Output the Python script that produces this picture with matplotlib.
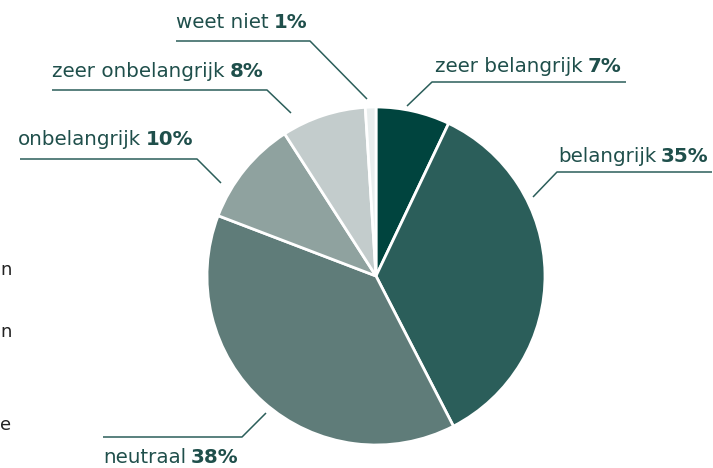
import matplotlib
matplotlib.use("Agg")
import matplotlib.pyplot as plt
import numpy as np

# ---- data ----
categories = ["zeer belangrijk", "belangrijk", "neutraal", "onbelangrijk", "zeer onbelangrijk", "weet niet"]
values = [7, 35, 38, 10, 8, 1]
pct_labels = ["7%", "35%", "38%", "10%", "8%", "1%"]
colors = ["#00443e", "#2b5e5a", "#5f7c79", "#8fa29f", "#c3cccc", "#e9eeee"]
edge_letters = ["n", "n", "e"]

W, H = 713, 468
fig = plt.figure(figsize=(W / 100, H / 100), dpi=100)
ax = fig.add_axes([0, 0, 1, 1])

cx, cy, R = 376, H - 276, 169
ax.pie(values, colors=colors, startangle=90, counterclock=False,
       center=(cx, cy), radius=R, frame=True,
       wedgeprops=dict(edgecolor="white", linewidth=2))
ax.set_xlim(0, W)
ax.set_ylim(0, H)
ax.set_aspect("equal")
ax.axis("off")

TXT = "#1f4f4b"
LINE = "#2b5e5a"
FONT = "DejaVu Sans"
FS = 14.3

# layout: (text x, text baseline y (image px), leader polyline in image px)
layout = {
    "zeer belangrijk": (435, 72, [(407, 106), (432, 82), (626, 82)]),
    "belangrijk": (558, 162, [(533, 197), (557, 172), (712, 172)]),
    "neutraal": (103, 463, [(266, 413), (242, 437), (103, 437)]),
    "onbelangrijk": (18, 145, [(221, 183), (197, 159), (20, 159)]),
    "zeer onbelangrijk": (52, 77, [(291, 113), (267, 90), (52, 90)]),
    "weet niet": (176, 28, [(367, 99), (310, 41), (176, 41)]),
}

for cat, pct in zip(categories, pct_labels):
    tx, ty, pts = layout[cat]
    xs = [p[0] for p in pts]
    ys = [H - p[1] for p in pts]
    ax.plot(xs, ys, color=LINE, lw=1.1, solid_capstyle="butt")
    t = ax.text(tx, H - ty, cat, fontsize=FS, family=FONT, color=TXT,
                ha="left", va="baseline")
    ax.annotate(pct, xy=(1, 0), xycoords=t, xytext=(3.5, 0),
                textcoords="offset points", fontsize=FS, family=FONT,
                fontweight="bold", color=TXT, ha="left", va="bottom")

# letters of a neighbouring element at the left edge
for ch, yy in zip(edge_letters, [275, 337, 430]):
    ax.text(0, H - yy, ch, fontsize=13, family=FONT, color="#222222",
            ha="left", va="baseline")

fig.savefig("out.png", dpi=100)
